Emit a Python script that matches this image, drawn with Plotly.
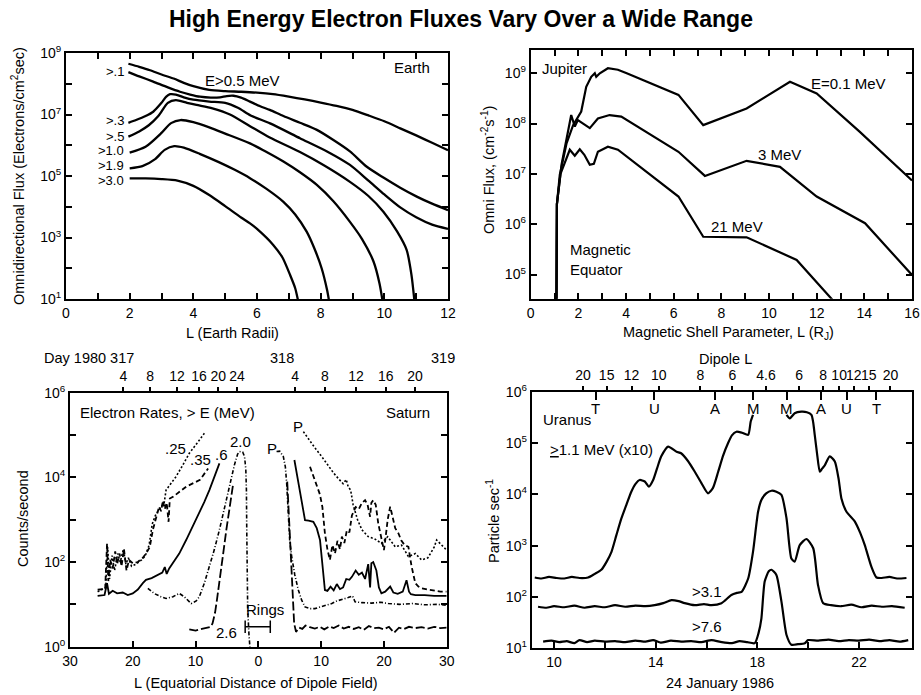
import numpy as np
import plotly.graph_objects as go

FONT = "Arial, Liberation Sans, Helvetica, sans-serif"

# ---------------- Earth (top-left) : L and log10(flux) ----------------
earth_top_L = [1.96, 2.3, 2.64, 3.0, 3.38, 3.7, 4.0, 4.5, 5.0, 5.5, 6.0, 6.5, 7.0, 7.5, 8.0, 8.5, 9.0, 9.5, 10.0, 10.5, 11.0, 11.5, 12.0]
earth_top_lg = [8.65, 8.55, 8.44, 8.30, 8.17, 8.03, 7.92, 7.80, 7.76, 7.74, 7.71, 7.66, 7.58, 7.49, 7.39, 7.28, 7.15, 6.97, 6.78, 6.55, 6.32, 6.08, 5.84]
earth_01_L = [1.96, 2.3, 2.74, 3.2, 3.58, 3.9, 4.21, 4.55, 4.84, 5.05, 5.26, 5.5, 5.78, 6.1, 6.4, 6.83, 7.35, 7.88, 8.4, 8.92, 9.45, 9.97, 10.5, 11.02, 11.5, 12.0]
earth_01_lg = [8.38, 8.24, 8.07, 7.88, 7.74, 7.65, 7.58, 7.55, 7.56, 7.60, 7.61, 7.55, 7.42, 7.27, 7.15, 6.95, 6.73, 6.50, 6.17, 5.80, 5.30, 4.95, 4.62, 4.33, 4.10, 3.89]
earth_03_L = [1.96, 2.2, 2.5, 2.74, 3.0, 3.15, 3.27, 3.45, 3.7, 4.0, 4.5, 5.0, 5.4, 5.8, 6.41, 7.35, 8.2, 8.92, 9.5, 10.0, 10.5, 11.0, 11.5, 12.0]
earth_03_lg = [6.73, 6.82, 6.95, 7.09, 7.38, 7.58, 7.66, 7.65, 7.56, 7.48, 7.42, 7.38, 7.22, 6.97, 6.71, 6.23, 5.80, 5.36, 4.85, 4.40, 3.98, 3.66, 3.42, 3.28]
earth_05_L = [1.96, 2.3, 2.6, 2.9, 3.2, 3.45, 3.8, 4.1, 4.6, 5.15, 5.78, 6.4, 7.35, 8.1, 8.92, 9.5, 9.97, 10.4, 10.7, 10.85, 10.95]
earth_05_lg = [6.28, 6.45, 6.65, 6.95, 7.38, 7.47, 7.38, 7.31, 7.20, 7.00, 6.62, 6.25, 5.78, 5.35, 4.81, 4.35, 3.84, 3.20, 2.60, 1.80, 0.90]
earth_10_L = [2.0, 2.5, 3.0, 3.3, 3.6, 4.0, 4.5, 5.0, 5.78, 6.3, 6.83, 7.35, 7.88, 8.4, 8.92, 9.3, 9.66, 9.85, 9.95]
earth_10_lg = [5.76, 5.95, 6.40, 6.72, 6.82, 6.75, 6.58, 6.38, 6.06, 5.78, 5.47, 5.12, 4.71, 4.18, 3.51, 2.95, 2.22, 1.50, 0.90]
earth_19_L = [2.0, 2.4, 2.8, 3.1, 3.4, 3.7, 4.2, 4.8, 5.3, 5.78, 6.3, 6.83, 7.2, 7.56, 7.8, 8.03, 8.2, 8.27]
earth_19_lg = [5.25, 5.32, 5.55, 5.85, 5.97, 5.92, 5.72, 5.45, 5.20, 4.93, 4.58, 4.16, 3.75, 3.19, 2.65, 2.00, 1.30, 0.90]
earth_30_L = [2.0, 2.5, 3.0, 3.5, 4.0, 4.5, 5.0, 5.5, 5.78, 6.0, 6.51, 6.8, 7.04, 7.2, 7.3]
earth_30_lg = [4.92, 4.92, 4.90, 4.85, 4.68, 4.38, 4.02, 3.65, 3.46, 3.28, 2.76, 2.35, 1.78, 1.35, 0.90]
earth_labels = [">.1", ">.3", ">.5", ">1.0", ">1.9", ">3.0"]
earth_label_lg = [8.39, 6.79, 6.30, 5.83, 5.34, 4.87]

# ---------------- Jupiter (top-right) ----------------
jup01_L = [1.08, 1.10, 1.22, 1.5, 1.78, 1.99, 2.12, 2.33, 2.54, 2.69, 2.75, 2.9, 3.24, 3.66, 4.03, 6.2, 7.24, 9.06, 10.88, 12.0, 13.8, 16.0]
jup01_lg = [4.4, 6.4, 6.98, 7.6, 7.97, 8.14, 8.24, 8.73, 8.93, 9.0, 8.93, 9.0, 9.10, 9.07, 9.0, 8.57, 7.97, 8.30, 8.83, 8.6, 7.84, 6.87]
jup3_L = [1.08, 1.10, 1.3, 1.5, 1.7, 1.85, 1.98, 2.2, 2.48, 2.82, 3.31, 3.8, 6.2, 7.31, 9.06, 10.46, 12.0, 14.03, 16.0]
jup3_lg = [4.4, 6.4, 7.2, 7.7, 8.17, 7.94, 8.07, 8.0, 7.91, 8.1, 8.17, 8.14, 7.44, 6.96, 7.26, 7.14, 6.55, 6.02, 4.99]
jup21_L = [1.08, 1.10, 1.25, 1.45, 1.64, 1.85, 2.06, 2.25, 2.48, 2.65, 2.82, 3.24, 3.66, 6.2, 7.24, 9.06, 11.16, 12.75]
jup21_lg = [4.4, 6.4, 7.0, 7.25, 7.48, 7.36, 7.49, 7.38, 7.18, 7.2, 7.44, 7.54, 7.48, 6.55, 5.75, 5.74, 5.29, 4.45]

# ---------------- Saturn (bottom-left), X<0 inbound, X>0 outbound ----------------
sat25_X = [-25.6, -24.3, -24.0, -23.7, -23.3, -22.9, -22.4, -22.0, -21.5, -21.1, -20.7, -20.2, -19.5, -18.6, -18.0, -17.4, -16.9, -16.4, -16.0, -15.5, -15.0, -14.7, -14.0, -13.1, -12.0, -11.0, -9.8, -8.6,
           None, 7.17, 8.0, 9.0, 10.1, 11.0, 12.0, 12.7, 13.5, 14.0, 14.3, 14.7, 15.1, 15.8, 16.5, 17.0, 17.5, 18.5, 19.6, 20.6, 21.8, 22.8, 23.9, 25.0, 26.0, 27.0, 28.0, 28.4, 29.2, 30.0]
sat25_lg = [1.30, 1.40, 2.35, 1.60, 2.15, 1.80, 2.20, 2.00, 2.30, 1.95, 2.10, 1.90, 1.95, 2.05, 2.15, 2.40, 2.90, 3.10, 3.20, 3.30, 3.40, 3.70, 3.85, 4.02, 4.30, 4.57, 4.80, 5.04,
            None, 5.08, 4.90, 4.70, 4.49, 4.30, 4.10, 3.98, 3.85, 3.95, 3.78, 3.70, 3.35, 3.00, 2.76, 2.68, 2.60, 2.55, 2.44, 2.60, 2.36, 2.40, 2.13, 2.20, 2.05, 2.10, 2.35, 2.52, 2.40, 2.28]
sat35_X = [-25.6, -24.4, -24.1, -23.9, -23.6, -23.2, -22.8, -22.5, -22.1, -21.8, -21.4, -21.0, -20.6, -20.0, -19.2, -18.4, -17.9, -17.3, -16.8, -16.3, -15.8, -15.5, -15.2, -14.9, -14.6, -14.3, -14.1, -13.6, -12.5, -11.5, -9.3, -8.0,
           None, 8.23, 8.7, 9.29, 9.8, 10.2, 10.6, 11.0, 11.4, 11.8, 12.2, 12.6, 13.0, 13.3, 13.7, 14.1, 14.5, 14.9, 15.5, 16.0, 16.5, 17.0, 17.4, 17.8, 18.0, 18.3, 18.7, 19.1, 19.5, 20.0, 20.2, 20.6, 21.0, 21.4, 21.8, 22.3, 22.8, 23.3, 23.9, 24.4, 25.0, 25.5, 26.0, 27.0, 28.0, 29.0, 30.0]
sat35_lg = [1.35, 1.36, 2.44, 1.55, 2.05, 1.85, 2.25, 1.95, 2.20, 1.90, 2.30, 1.80, 2.05, 1.97, 2.00, 2.10, 2.20, 2.35, 2.76, 3.05, 3.31, 3.20, 3.45, 3.25, 3.40, 2.95, 3.50, 3.54, 3.66, 3.78, 3.94, 4.21,
            None, 4.25, 4.05, 3.78, 3.60, 3.30, 2.68, 2.30, 2.05, 2.40, 2.20, 2.50, 2.30, 2.60, 2.45, 2.75, 2.70, 3.10, 3.30, 3.25, 3.40, 3.46, 3.35, 3.07, 3.40, 3.46, 3.35, 2.91, 2.60, 2.28, 2.50, 3.00, 3.31, 3.05, 2.80, 2.68, 2.50, 2.40, 2.36, 1.90, 1.50, 1.42, 1.38, 1.35, 1.32, 1.30, 1.30]
sat06_X = [-25.6, -24.5, -24.1, -23.8, -23.2, -22.5, -21.6, -20.8, -20.0, -19.2, -18.4, -17.9, -17.0, -16.2, -15.3, -14.9, -14.6, -14.2, -13.6, -12.6, -11.5, -10.4, -9.4, -8.6, -7.8, -7.0, -6.2,
           None, 5.74, 6.0, 6.37, 6.9, 7.43, 8.0, 8.76, 9.3, 9.82, 10.1, 10.36, 10.6, 11.0, 11.5, 12.0, 12.5, 13.0, 13.5, 14.0, 14.5, 14.9, 15.5, 16.0, 16.5, 17.0, 17.5, 17.8, 18.0, 18.3, 18.8, 19.2, 19.6, 20.2, 21.0, 21.5, 22.2, 23.0, 23.6, 24.0, 24.3, 25.0, 26.5, 28.0, 30.0]
sat06_lg = [1.20, 1.22, 1.50, 1.25, 1.32, 1.26, 1.28, 1.22, 1.26, 1.35, 1.50, 1.58, 1.62, 1.68, 1.75, 1.88, 1.72, 1.85, 1.97, 2.20, 2.52, 2.85, 3.15, 3.42, 3.70, 4.02, 4.33,
            None, 4.41, 4.20, 3.86, 3.40, 2.99, 2.98, 2.95, 2.80, 2.52, 2.10, 1.65, 1.34, 1.32, 1.42, 1.33, 1.48, 1.36, 1.40, 1.60, 1.58, 1.65, 1.80, 1.70, 1.75, 1.60, 1.95, 1.40, 1.97, 2.00, 1.80, 1.40, 1.26, 1.30, 1.42, 1.28, 1.25, 1.30, 1.57, 1.30, 1.24, 1.22, 1.22, 1.20, 1.20]
sat20_X = [-17.6, -16.5, -15.5, -14.7, -13.6, -12.6, -11.8, -10.7, -9.9, -9.4, -8.6, -7.8, -7.0, -6.2, -5.4, -4.6, -3.8, -3.3, -3.0, -2.5, -2.2, -2.0, -1.9, -1.85, -1.8, -1.7, -1.5, -1.3,
           None, 2.9, 3.4, 3.98, 4.3, 4.51, 4.65, 4.78, 5.0, 5.31, 5.8, 6.37, 6.9, 7.43, 8.2, 9.0, 10.0, 11.0, 11.7, 12.5, 13.5, 14.3, 15.0, 15.4, 16.5, 18.0, 19.5, 20.7, 22.5, 24.5, 26.5, 28.5, 30.0]
sat20_lg = [1.38, 1.25, 1.18, 1.14, 1.18, 1.26, 1.18, 1.02, 1.08, 1.18, 1.50, 1.89, 2.30, 2.76, 3.30, 3.78, 4.30, 4.55, 4.61, 4.60, 4.49, 4.20, 3.70, 2.80, 1.80, 0.90, 0.30, -0.10,
            None, 4.61, 4.62, 4.49, 4.25, 3.86, 3.40, 2.91, 2.50, 2.13, 1.70, 1.34, 1.10, 0.94, 0.90, 0.90, 0.95, 1.00, 1.02, 1.08, 1.12, 1.16, 1.20, 1.06, 1.04, 1.03, 1.05, 1.02, 1.00, 1.02, 0.99, 1.00, 0.98]
sat26_X = [-11.0, -10.0, -9.0, -8.2, -7.6, -7.3, -6.9, -6.6, -6.2, -5.6, -5.1, -4.6, -4.0,
           None, 4.6, 4.9, 5.2, 5.5, 5.7, 6.0, 6.5, 7.0, 7.5, 8.2, 9.0, 9.8, 10.5, 11.3, 12.0, 12.8, 13.6, 14.4, 15.2, 16.0, 16.8, 17.6, 18.4, 19.2, 20.0, 20.8, 21.6, 22.4, 23.2, 24.0, 25.0, 26.0, 27.0, 28.0, 29.0, 30.0]
sat26_lg = [0.41, 0.38, 0.42, 0.45, 0.47, 0.55, 0.80, 1.10, 1.50, 2.20, 2.76, 3.30, 3.86,
            None, 3.90, 3.00, 2.00, 1.00, 0.55, 0.35, 0.45, 0.42, 0.50, 0.46, 0.43, 0.47, 0.41, 0.48, 0.44, 0.50, 0.43, 0.47, 0.42, 0.46, 0.40, 0.49, 0.44, 0.45, 0.41, 0.47, 0.33, 0.45, 0.42, 0.47, 0.44, 0.46, 0.43, 0.47, 0.44, 0.45]
rings_X = [-2.1, 1.9]
rings_lg = [0.47, 0.47]
sat_day_hour_X = [-21.5, -17.25, -12.95, -9.45, -6.4, -3.4, 5.85, 10.6, 15.55, 20.3, 24.95]
sat_day_hour_txt = ["4", "8", "12", "16", "20", "24", "4", "8", "12", "16", "20"]

# ---------------- Uranus (bottom-right) : hour and log10(rate) ----------------
ura11_h = [9.24, 9.5, 9.8, 10.1, 10.4, 10.7, 11.0, 11.34, 11.6, 11.86, 12.06, 12.26, 12.45, 12.65, 12.85, 13.04, 13.2, 13.37, 13.57, 13.73, 13.9, 14.05, 14.22, 14.49, 14.82, 15.0, 15.27, 15.54, 15.8, 16.06, 16.25, 16.46, 16.65, 16.85, 17.0, 17.18, 17.4, 17.64, 17.74, 17.83,
           None, 19.15, 19.28, 19.47, 19.73, 19.95, 20.13, 20.2, 20.26, 20.35, 20.46, 20.55, 20.66, 20.85, 21.05, 21.2, 21.31, 21.51, 21.84, 22.05, 22.23, 22.49, 22.69, 22.9, 23.2, 23.5, 23.87]
ura11_lg = [2.38, 2.36, 2.39, 2.37, 2.36, 2.39, 2.37, 2.38, 2.45, 2.53, 2.68, 2.88, 3.20, 3.53, 3.80, 4.05, 4.20, 4.28, 4.25, 4.15, 4.28, 4.50, 4.74, 4.93, 4.83, 4.80, 4.65, 4.44, 4.22, 4.02, 4.12, 4.44, 4.75, 5.00, 5.15, 5.22, 5.20, 5.16, 5.42, 5.55,
            None, 5.55, 5.48, 5.58, 5.61, 5.60, 5.55, 5.40, 5.16, 4.80, 4.44, 4.50, 4.57, 4.74, 4.64, 4.30, 3.92, 3.66, 3.47, 3.25, 3.01, 2.59, 2.38, 2.37, 2.39, 2.36, 2.37]
ura31_h = [9.37, 9.7, 10.0, 10.4, 10.8, 11.2, 11.6, 12.0, 12.4, 12.8, 13.2, 13.6, 13.96, 14.3, 14.62, 14.9, 15.14, 15.54, 15.9, 16.2, 16.59, 16.98, 17.2, 17.38, 17.64, 17.83, 18.03, 18.16, 18.35, 18.56, 18.75, 18.95, 19.15, 19.34, 19.47, 19.67, 19.93, 20.2, 20.39, 20.59, 20.9, 21.3, 21.7, 22.1, 22.5, 22.9, 23.3, 23.8]
ura31_lg = [1.81, 1.79, 1.82, 1.80, 1.83, 1.79, 1.82, 1.80, 1.84, 1.81, 1.83, 1.82, 1.84, 1.88, 1.94, 1.92, 1.88, 1.84, 1.86, 1.84, 1.88, 2.04, 2.08, 2.10, 2.36, 2.88, 3.66, 3.89, 4.02, 4.07, 4.05, 3.99, 3.53, 2.75, 2.69, 3.01, 3.13, 2.95, 2.23, 1.88, 1.84, 1.82, 1.85, 1.80, 1.83, 1.81, 1.82, 1.79]
ura76_h = [9.57, 9.9, 10.2, 10.5, 10.8, 11.0, 11.3, 11.6, 12.0, 12.4, 12.8, 13.2, 13.6, 13.9, 14.2, 14.6, 15.0, 15.4, 15.8, 16.2, 16.6, 17.0, 17.3, 17.6, 17.9, 18.05, 18.16, 18.29, 18.45, 18.56, 18.75, 18.95, 19.15, 19.34, 19.6, 19.87, 20.0, 20.4, 20.8, 21.2, 21.6, 22.0, 22.4, 22.8, 23.2, 23.6, 23.94]
ura76_lg = [1.13, 1.15, 1.12, 1.14, 1.10, 1.16, 1.12, 1.15, 1.13, 1.14, 1.12, 1.15, 1.13, 1.16, 1.11, 1.15, 1.13, 1.14, 1.12, 1.16, 1.12, 1.10, 1.14, 1.12, 1.10, 1.30, 1.58, 2.30, 2.50, 2.53, 2.43, 1.91, 1.26, 1.07, 1.08, 1.10, 1.16, 1.15, 1.17, 1.14, 1.16, 1.15, 1.17, 1.14, 1.16, 1.13, 1.16]
dipole_h = [11.14, 12.07, 13.05, 14.12, 15.76, 17.02, 18.34, 19.65, 20.59, 21.22, 21.8, 22.39, 23.24]
dipole_txt = ["20", "15", "12", "10", "8", "6", "4.6", "6", "8", "10", "12", "15", "20"]
ring_h = [11.64, 13.94, 16.33, 17.83, 19.15, 20.5, 21.51, 22.69]
ring_txt = ["T", "U", "A", "M", "M", "A", "U", "T"]


def pw(lg):
    return [None if v is None else 10 ** v for v in lg]


fig = go.Figure()


def line(x, lg, xa, ya, width=2.2, dash="solid", shape="linear", smooth=None):
    ln = dict(color="black", width=width, dash=dash, shape=shape)
    if smooth is not None:
        ln["smoothing"] = smooth
    fig.add_trace(go.Scatter(x=x, y=pw(lg), mode="lines", line=ln, xaxis=xa, yaxis=ya,
                             showlegend=False, hoverinfo="skip", connectgaps=False))


# Earth
for L, lg in [(earth_top_L, earth_top_lg), (earth_01_L, earth_01_lg), (earth_03_L, earth_03_lg),
              (earth_05_L, earth_05_lg), (earth_10_L, earth_10_lg), (earth_19_L, earth_19_lg),
              (earth_30_L, earth_30_lg)]:
    line(L, lg, "x", "y", 2.3, shape="spline", smooth=0.7)
# Jupiter
for L, lg in [(jup01_L, jup01_lg), (jup3_L, jup3_lg), (jup21_L, jup21_lg)]:
    line(L, lg, "x2", "y2", 2.2)
# Saturn
line(sat25_X, sat25_lg, "x3", "y3", 1.6, dash="2px,2px")
line(sat35_X, sat35_lg, "x3", "y3", 1.8, dash="5px,3px")
line(sat06_X, sat06_lg, "x3", "y3", 1.8)
line(sat20_X, sat20_lg, "x3", "y3", 1.6, dash="4px,2px,1px,2px")
line(sat26_X, sat26_lg, "x3", "y3", 1.8, dash="9px,3px")
fig.add_trace(go.Scatter(x=rings_X, y=pw(rings_lg), mode="lines+markers", xaxis="x3", yaxis="y3",
                         line=dict(color="black", width=1.5),
                         marker=dict(symbol="line-ns", size=9, line=dict(width=1.5, color="black")),
                         showlegend=False, hoverinfo="skip"))
# Uranus
line(ura11_h, ura11_lg, "x4", "y4", 2.2, shape="spline", smooth=0.6)
line(ura31_h, ura31_lg, "x4", "y4", 2.2, shape="spline", smooth=0.6)
line(ura76_h, ura76_lg, "x4", "y4", 2.2, shape="spline", smooth=0.6)

# invisible traces to activate overlay axes
for xa, ya, xr in [("x5", "y3", [-30, 30]), ("x6", "y4", [9.12, 24.1]), ("x7", "y4", [9.12, 24.1])]:
    fig.add_trace(go.Scatter(x=xr, y=[10, 10], mode="markers", marker=dict(opacity=0),
                             xaxis=xa, yaxis=ya, showlegend=False, hoverinfo="skip"))

W, H = 921, 695


def dx(p0, p1):
    return [p0 / W, p1 / W]


def dy(top, bot):
    return [1 - bot / H, 1 - top / H]


base = dict(showline=True, linecolor="black", linewidth=2, ticks="inside", tickcolor="black",
            ticklen=6, tickwidth=1.5, showgrid=False, zeroline=False, tickangle=0,
            tickfont=dict(size=14, color="black", family=FONT), automargin=False)


def sup(n):
    return "10<sup>%d</sup>" % n


layout = dict(
    width=W, height=H, margin=dict(l=0, r=0, t=0, b=0),
    paper_bgcolor="white", plot_bgcolor="white", showlegend=False,
    font=dict(family=FONT, color="black"),
    xaxis=dict(base, domain=dx(66, 448), anchor="y", range=[0, 12], mirror="ticks",
               tickvals=list(range(0, 13)), ticktext=[str(v) if v % 2 == 0 else "" for v in range(13)]),
    yaxis=dict(base, domain=dy(53, 299), anchor="x", type="log", range=[1, 9], mirror="ticks",
               tickvals=[10 ** k for k in range(1, 10)],
               ticktext=[sup(k) if k % 2 == 1 else "" for k in range(1, 10)]),
    xaxis2=dict(base, domain=dx(530.7, 912), anchor="y2", range=[0, 16], mirror="ticks",
                tickvals=list(range(0, 17)), ticktext=[str(v) if v % 2 == 0 else "" for v in range(17)]),
    yaxis2=dict(base, domain=dy(50, 298.7), anchor="x2", type="log", range=[4.519, 9.463], mirror="ticks",
                tickvals=[10 ** k for k in range(5, 10)], ticktext=[sup(k) for k in range(5, 10)]),
    xaxis3=dict(base, domain=dx(70, 446.7), anchor="y3", range=[-30, 30], mirror=True,
                tickvals=[-30, -20, -10, 0, 10, 20, 30], ticktext=["30", "20", "10", "0", "10", "20", "30"]),
    yaxis3=dict(base, domain=dy(392.7, 646.7), anchor="x3", type="log", range=[0, 6], mirror="ticks",
                tickvals=[10 ** k for k in range(0, 7)],
                ticktext=[sup(k) if k % 2 == 0 else "" for k in range(0, 7)]),
    xaxis4=dict(base, domain=dx(531.7, 912.3), anchor="y4", range=[9.12, 24.1], mirror=True,
                tickvals=[10, 12, 14, 16, 18, 20, 22], ticktext=["10", "", "14", "", "18", "", "22"]),
    yaxis4=dict(base, domain=dy(391.7, 648.3), anchor="x4", type="log", range=[1, 6], mirror="ticks",
                tickvals=[10 ** k for k in range(1, 7)], ticktext=[sup(k) for k in range(1, 7)]),
    xaxis5=dict(base, overlaying="x3", anchor="y3", side="top", range=[-30, 30], showline=False,
                ticks="outside", ticklen=5, tickvals=sat_day_hour_X, ticktext=sat_day_hour_txt),
    xaxis6=dict(base, overlaying="x4", anchor="y4", side="top", range=[9.12, 24.1], showline=False,
                ticks="outside", ticklen=5, tickvals=dipole_h, ticktext=dipole_txt),
    xaxis7=dict(base, overlaying="x4", anchor="y4", side="top", range=[9.12, 24.1], showline=False,
                ticks="inside", ticklen=8, tickvals=ring_h, showticklabels=False),
)

anns = []


def A(text, x, y, xref, yref, size=15, xanchor="center", yanchor="middle", angle=0, bold=False):
    anns.append(dict(text=("<b>%s</b>" % text) if bold else text, x=x, y=y, xref=xref, yref=yref,
                     showarrow=False, xanchor=xanchor, yanchor=yanchor, textangle=angle,
                     font=dict(size=size, color="black", family=FONT)))


def P(px, py, text, size=15, angle=0, xanchor="center", bold=False):
    A(text, px / W, 1 - py / H, "paper", "paper", size, xanchor, "middle", angle, bold)


# title and axis titles
P(461, 19, "High Energy Electron Fluxes Vary Over a Wide Range", size=23, bold=True)
P(18, 176, "Omnidirectional Flux (Electrons/cm<sup>2</sup>sec)", size=14.5, angle=-90)
P(232, 333, "L (Earth Radii)", size=14.5)
P(488, 170, "Omni Flux, (cm<sup>-2</sup>s<sup>-1</sup>)", size=14.5, angle=-90)
P(728, 333, "Magnetic Shell Parameter, L (R<sub>J</sub>)", size=14.5)
P(23, 519, "Counts/second", size=14.5, angle=-90)
P(256, 683, "L (Equatorial Distance of Dipole Field)", size=14.5)
P(493, 521, "Particle sec<sup>-1</sup>", size=14.5, angle=-90)
P(720, 683, "24 January 1986", size=14.5)
P(725, 359, "Dipole L", size=14.5)
P(89, 358, "Day 1980 317", size=14.5)
P(282, 358, "318", size=14.5)
P(443, 358, "319", size=14.5)

# Earth labels
for t, y in zip(earth_labels, earth_label_lg):
    A(t, 1.9, y, "x", "y", 13, xanchor="right")
A("E>0.5 MeV", 5.56, 8.12, "x", "y", 15)
A("Earth", 10.87, 8.54, "x", "y", 15)
# Jupiter labels
A("Jupiter", 0.39, 9.10, "x2", "y2", 15, xanchor="left")
A("E=0.1 MeV", 13.32, 8.80, "x2", "y2", 15)
A("3 MeV", 10.46, 7.38, "x2", "y2", 15)
A("21 MeV", 8.64, 5.96, "x2", "y2", 15)
A("Magnetic", 1.57, 5.49, "x2", "y2", 15, xanchor="left")
A("Equator", 1.57, 5.10, "x2", "y2", 15, xanchor="left")
# Saturn labels
A("Electron Rates, > E (MeV)", -28.7, 5.53, "x3", "y3", 15, xanchor="left")
A("Saturn", 23.85, 5.53, "x3", "y3", 15)
A(".25", -13.27, 4.69, "x3", "y3", 15)
A(".35", -9.29, 4.43, "x3", "y3", 15)
A(".6", -5.83, 4.55, "x3", "y3", 15)
A("2.0", -2.8, 4.84, "x3", "y3", 15)
A("P", 2.13, 4.69, "x3", "y3", 15)
A("P", 6.37, 5.21, "x3", "y3", 15)
A("2.6", -5.03, 0.33, "x3", "y3", 15)
A("Rings", 1.07, 0.87, "x3", "y3", 15)
# Uranus labels
A("Uranus", 10.5, 5.45, "x4", "y4", 15)
A("<u>></u>1.1 MeV (x10)", 9.78, 4.87, "x4", "y4", 15, xanchor="left")
A(">3.1", 16.01, 2.10, "x4", "y4", 15)
A(">7.6", 16.01, 1.42, "x4", "y4", 15)
for h, t in zip(ring_h, ring_txt):
    A(t, h, 5.68, "x4", "y4", 15)

layout["annotations"] = anns
fig.update_layout(**layout)
fig.write_html("out.html")
